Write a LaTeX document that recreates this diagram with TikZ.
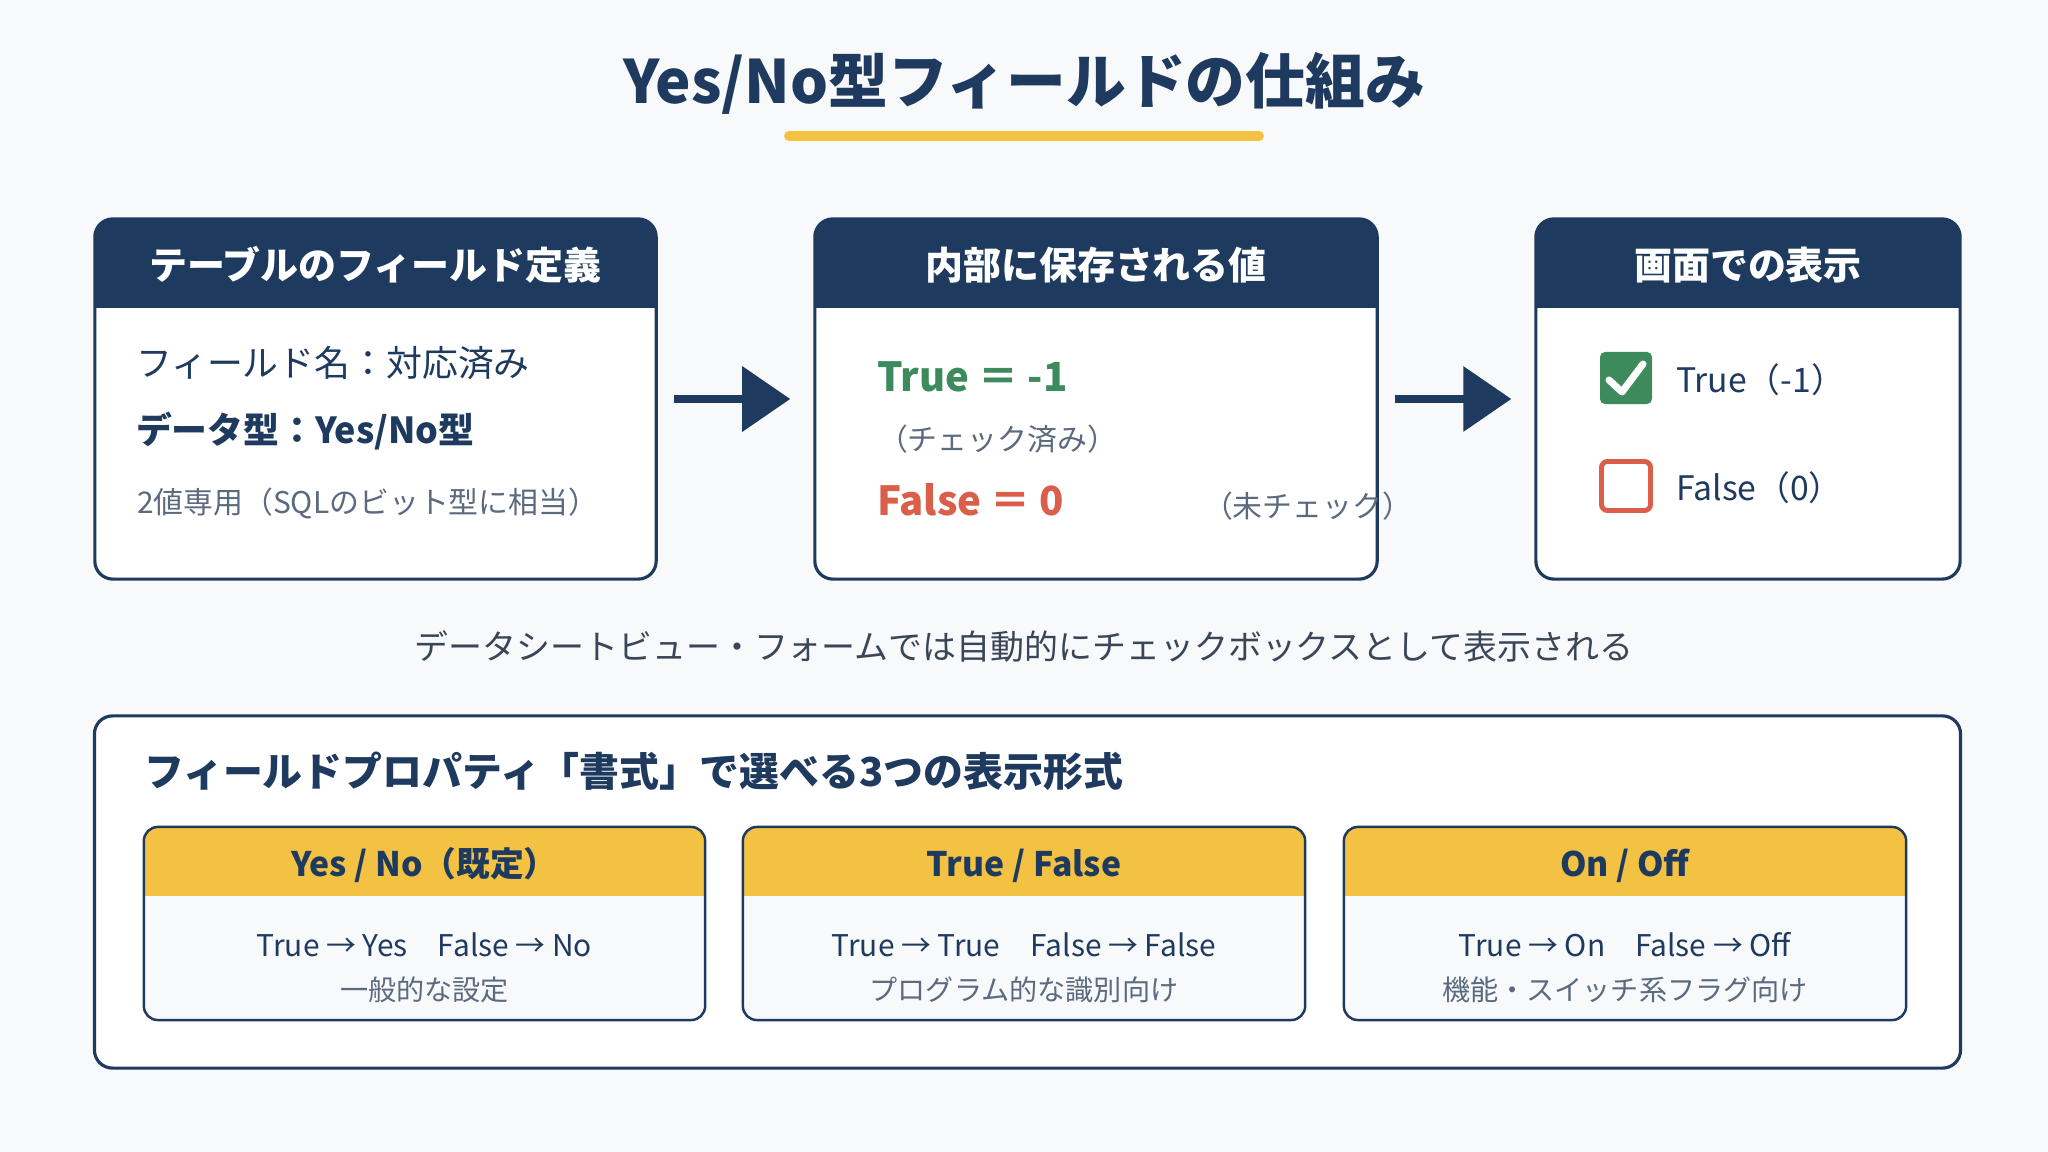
\documentclass[tikz,border=0pt]{standalone}
\usepackage{fontspec}
\setmainfont{Noto Sans CJK JP}
\usetikzlibrary{arrows.meta,positioning}
\definecolor{navy}{HTML}{1F3A5F}
\definecolor{gold}{HTML}{F4C242}
\definecolor{okgreen}{HTML}{3D8B5D}
\definecolor{ngred}{HTML}{DA5E4A}
\definecolor{slate}{HTML}{5B6A7E}
\definecolor{ink}{HTML}{3A4658}
\definecolor{paper}{HTML}{F7F9FB}
\tikzset{
    every picture/.style={line cap=round,line join=round},
    txt/.style={inner sep=0pt,outer sep=0pt,text height=0.76em,text depth=0pt},
    panel/.style={draw=navy,fill=white,line width=0.9pt,rounded corners=0.18cm,
      minimum height=3.6cm,inner sep=0pt,
      path picture={\fill[navy,sharp corners] (path picture bounding box.north west)
        rectangle ([yshift=-0.89cm]path picture bounding box.north east);}},
    fmtbox/.style={draw=navy,fill=paper,line width=0.7pt,rounded corners=0.14cm,
      minimum width=5.61cm,minimum height=1.93cm,inner sep=0pt,
      path picture={\fill[gold,sharp corners] (path picture bounding box.north west)
        rectangle ([yshift=-0.69cm]path picture bounding box.north east);}},
    headtxt/.style={txt,text=white,font=\bfseries\fontsize{10.8}{13}\selectfont},
    bodytxt/.style={txt,anchor=west,text=navy,font=\fontsize{10.2}{12}\selectfont},
    notetxt/.style={txt,text=slate,font=\fontsize{8.5}{10}\selectfont},
    valtxt/.style={txt,anchor=west,font=\bfseries\fontsize{11.4}{14}\selectfont},
    fmthead/.style={txt,text=navy,font=\bfseries\fontsize{9.6}{12}\selectfont},
    fmtbody/.style={txt,text=navy,font=\fontsize{8.5}{10}\selectfont},
    fmtnote/.style={txt,text=slate,font=\fontsize{8}{9}\selectfont},
    flowarrow/.style={-{Triangle[length=0.48cm,width=0.64cm]},draw=navy,
      line width=2pt,line cap=butt,shorten <=0.16cm,shorten >=0.23cm}
}

\begin{document}
\begin{tikzpicture}[x=0.01cm,y=-0.01cm]
  \fill[paper] (0,0) rectangle (2048,1152);
  \useasboundingbox (0,0) rectangle (2048,1152);

  \node[txt,text=navy,font=\bfseries\fontsize{17}{20}\selectfont] (title) at (1024,90){Yes/No型フィールドの仕組み};
  \draw[gold,line width=2.8pt] (789,136)--(1259,136);

  % three stages
  \node[panel,minimum width=5.61cm] (defbox) at (375.5,399){};
  \node[panel,minimum width=5.62cm] (valbox) at (1096,399){};
  \node[panel,minimum width=4.24cm] (viewbox) at (1748,399){};
  \node[headtxt] (defhead) at (375.5,266){テーブルのフィールド定義};
  \node[headtxt] (valhead) at (1096,266){内部に保存される値};
  \node[headtxt] (viewhead) at (1748,266){画面での表示};

  \node[bodytxt] (fname) at (136,363){フィールド名：対応済み};
  \node[bodytxt,font=\bfseries\fontsize{10.2}{12}\selectfont] (ftype) at (136,430){データ型：Yes/No型};
  \node[notetxt,anchor=west] (fnote) at (137,500){2値専用（SQLのビット型に相当）};

  \node[valtxt,text=okgreen] (valtrue) at (877,378){True ＝ -1};
  \node[notetxt,anchor=west] (valtruenote) at (878,437){（チェック済み）};
  \node[valtxt,text=ngred] (valfalse) at (877,502){False ＝ 0};
  \node[notetxt,anchor=west] (valfalsenote) at (1203,504){（未チェック）};

  \node[fill=okgreen,rounded corners=0.05cm,minimum size=0.52cm,inner sep=0pt] (chkon) at (1626,378){};
  \draw[white,line width=2pt] ([shift={(-17,2)}]chkon.center)--([shift={(-4,14)}]chkon.center)--([shift={(17,-14)}]chkon.center);
  \node[draw=ngred,fill=white,line width=1.4pt,rounded corners=0.06cm,minimum size=0.49cm,inner sep=0pt] (chkoff) at (1626,486){};
  \node[bodytxt,font=\fontsize{9.6}{12}\selectfont] (viewtrue) at (1676,379){True（-1）};
  \node[bodytxt,font=\fontsize{9.6}{12}\selectfont] (viewfalse) at (1676,487){False（0）};

  \draw[flowarrow] (defbox.east)--(valbox.west);
  \draw[flowarrow] (valbox.east)--(viewbox.west);

  \node[txt,text=ink,font=\fontsize{9.65}{12}\selectfont] (caption) at (1024,646){データシートビュー・フォームでは自動的にチェックボックスとして表示される};

  % format property
  \node[draw=navy,fill=white,line width=0.9pt,rounded corners=0.18cm,minimum width=18.65cm,
    minimum height=3.52cm,inner sep=0pt] (fmtframe) at (1027.5,892){};
  \node[txt,anchor=west,text=navy,font=\bfseries\fontsize{11.35}{14}\selectfont] (fmttitle) at (144,773){フィールドプロパティ「書式」で選べる3つの表示形式};

  \node[fmtbox] (fmtyes) at (424.5,923.5){};
  \node[fmtbox,minimum width=5.62cm] (fmttf) at (1024,923.5){};
  \node[fmtbox,minimum width=5.62cm] (fmton) at (1625,923.5){};

  \node[fmthead] (yeshead) at (424.5,863){Yes / No（既定）};
  \node[fmtbody] (yesbody) at (424.5,943){True → Yes\quad False → No};
  \node[fmtnote] (yesnote) at (424.5,987){一般的な設定};
  \node[fmthead] (tfhead) at (1024,863){True / False};
  \node[fmtbody] (tfbody) at (1024,943){True → True\quad False → False};
  \node[fmtnote] (tfnote) at (1024,987){プログラム的な識別向け};
  \node[fmthead] (onhead) at (1625,863){On / Off};
  \node[fmtbody] (onbody) at (1625,943){True → On\quad False → Off};
  \node[fmtnote] (onnote) at (1625,987){機能・スイッチ系フラグ向け};
\end{tikzpicture}
\end{document}
